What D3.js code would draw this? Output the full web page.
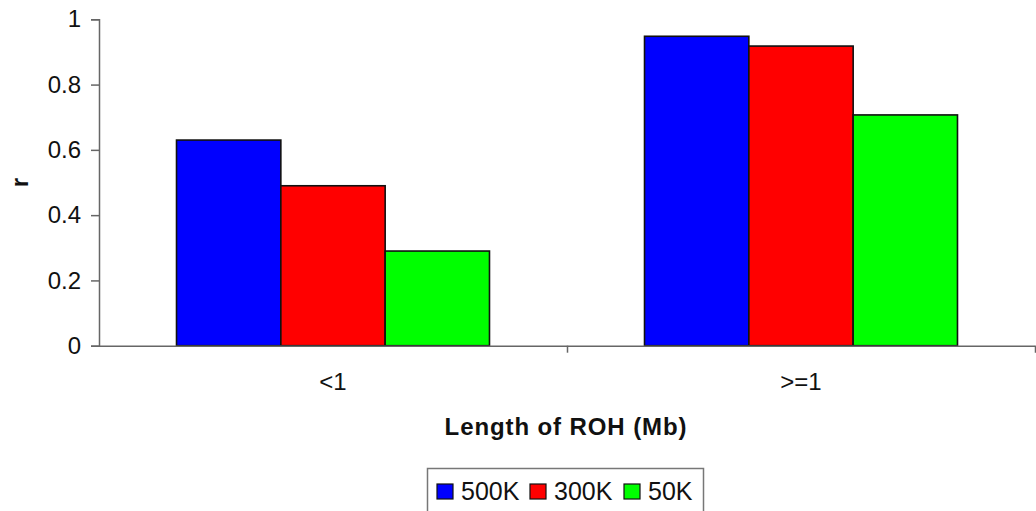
<!DOCTYPE html>
<html>
<head>
<meta charset="utf-8">
<script src="https://cdn.jsdelivr.net/npm/d3@7"></script>
<style>
  html, body { margin: 0; padding: 0; background: #fff; }
  svg { display: block; font-family: "Liberation Sans", Arial, sans-serif; }
</style>
</head>
<body>
<svg id="chart" width="1036" height="511"></svg>
<script>
const categories = ["<1", ">=1"];
const seriesNames = ["500K", "300K", "50K"];
const values500K = [0.63, 0.948];
const values300K = [0.49, 0.918];
const values50K = [0.29, 0.707];
const seriesColors = ["#0000FF", "#FF0000", "#00FF00"];
const yTicks = [0, 0.2, 0.4, 0.6, 0.8, 1];

const seriesValues = [values500K, values300K, values50K];
const data = categories.map((c, i) => ({
  cat: c,
  vals: seriesNames.map((s, j) => ({ series: s, value: seriesValues[j][i], color: seriesColors[j] }))
}));

const svg = d3.select("#chart");
const mLeft = 99, mRight = 1035, mTop = 19.3, mBottom = 345.7;

const x = d3.scaleBand().domain(categories).range([mLeft, mRight]).paddingInner(0).paddingOuter(0);
const xInner = d3.scaleBand().domain(seriesNames).range([0, x.bandwidth()]).paddingInner(0).paddingOuter(0.743);
const y = d3.scaleLinear().domain([0, 1]).range([mBottom, mTop]);

// Bars
const groups = svg.append("g").selectAll("g").data(data).join("g")
  .attr("transform", d => `translate(${x(d.cat)},0)`);
groups.selectAll("rect").data(d => d.vals).join("rect")
  .attr("x", d => xInner(d.series))
  .attr("y", d => y(d.value))
  .attr("width", xInner.bandwidth())
  .attr("height", d => y(0) - y(d.value))
  .attr("fill", d => d.color)
  .attr("stroke", "#111")
  .attr("stroke-width", 1.6);

// Y axis
const yAxis = svg.append("g").attr("transform", `translate(${mLeft},0)`)
  .call(d3.axisLeft(y).tickValues(yTicks).tickFormat(d => d === 0 || d === 1 ? d3.format("d")(d) : d3.format(".1f")(d)).tickSize(8).tickPadding(10));
yAxis.select(".domain").attr("stroke", "#666").attr("stroke-width", 1.5);
yAxis.selectAll(".tick line").attr("stroke", "#666").attr("stroke-width", 1.5);
yAxis.selectAll(".tick text").attr("font-size", 24).attr("fill", "#111").attr("font-family", "Liberation Sans, Arial, sans-serif");

// X axis line + boundary ticks
const xb = d3.scaleLinear().domain([0, categories.length]).range([mLeft, mRight]);
const xAxisB = svg.append("g").attr("transform", `translate(0,${mBottom})`)
  .call(d3.axisBottom(xb).tickValues(d3.range(1, categories.length + 1)).tickFormat("").tickSize(7).tickSizeOuter(0));
xAxisB.select(".domain").attr("stroke", "#666").attr("stroke-width", 1.5);
xAxisB.selectAll(".tick line").attr("stroke", "#666").attr("stroke-width", 1.5);

// Category labels
const xAxisL = svg.append("g").attr("transform", `translate(0,${mBottom})`)
  .call(d3.axisBottom(x).tickSize(0).tickPadding(27));
xAxisL.select(".domain").remove();
xAxisL.selectAll(".tick text").attr("font-size", 24).attr("fill", "#111").attr("font-family", "Liberation Sans, Arial, sans-serif");

// Axis titles
svg.append("text")
  .attr("x", (mLeft + mRight) / 2 - 1)
  .attr("y", 435)
  .attr("text-anchor", "middle")
  .attr("font-size", 24)
  .attr("font-weight", "bold")
  .attr("letter-spacing", 0.9)
  .attr("fill", "#111")
  .text("Length of ROH (Mb)");

svg.append("text")
  .attr("transform", `translate(28,${(mTop + mBottom) / 2}) rotate(-90)`)
  .attr("text-anchor", "middle")
  .attr("font-size", 24)
  .attr("font-weight", "bold")
  .attr("fill", "#111")
  .text("r");

// Legend
const legend = svg.append("g");
legend.append("rect")
  .attr("x", 427.5).attr("y", 468.5).attr("width", 276).attr("height", 60)
  .attr("fill", "#fff").attr("stroke", "#777").attr("stroke-width", 1.5);
const legendX = [437, 530, 624];
const items = legend.selectAll("g.item").data(seriesNames.map((s, i) => ({ s, c: seriesColors[i], x: legendX[i] })))
  .join("g").attr("class", "item");
items.append("rect")
  .attr("x", d => d.x).attr("y", 484).attr("width", 16).attr("height", 15)
  .attr("fill", d => d.c).attr("stroke", "#111").attr("stroke-width", 1.2);
items.append("text")
  .attr("x", d => d.x + 24).attr("y", 500)
  .attr("font-size", 25)
  .attr("fill", "#111")
  .text(d => d.s);
</script>
</body>
</html>
